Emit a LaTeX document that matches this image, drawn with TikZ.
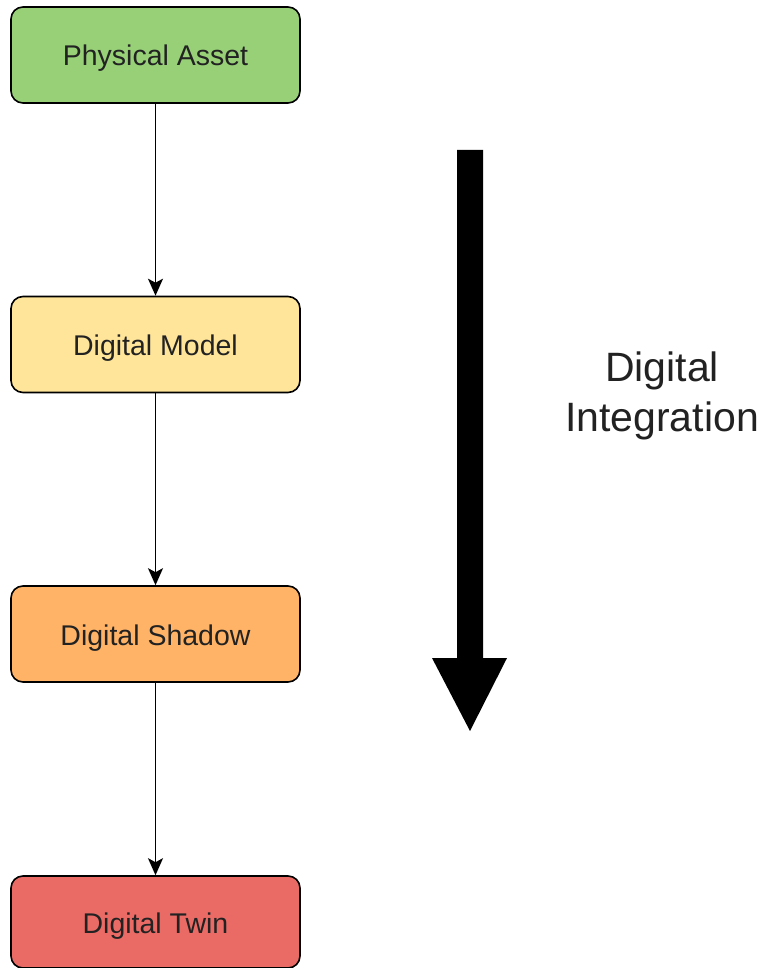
\documentclass[tikz,border=0pt]{standalone}
\usepackage{fontspec}
\setmainfont{Liberation Sans}
\usetikzlibrary{arrows.meta}
\definecolor{cgreen}{HTML}{97D077}
\definecolor{cyellow}{HTML}{FFE599}
\definecolor{corange}{HTML}{FFB366}
\definecolor{cred}{HTML}{EA6B66}
\definecolor{ctext}{HTML}{222222}
\begin{document}
\begin{tikzpicture}[x=1pt,y=-1pt,
  stagebox/.style={draw=black, line width=1.6pt, rounded corners=12pt,
    minimum width=289pt, minimum height=96pt, inner sep=0pt,
    text height=28pt, text depth=6pt,
    text=ctext, font=\fontsize{28.5}{34}\selectfont},
  link/.style={draw=black, line width=1.8pt, -{Stealth[length=17pt,width=15pt,inset=4pt]}}]
\useasboundingbox (0,0) rectangle (771,968);
\node[stagebox, fill=cgreen]  (pa) at (155.5,55)  {Physical Asset};
\node[stagebox, fill=cyellow] (dm) at (155.5,344.5) {Digital Model};
\node[stagebox, fill=corange] (ds) at (155.5,634) {Digital Shadow};
\node[stagebox, fill=cred, minimum height=92pt] (dt) at (155.5,922) {Digital Twin};
\draw[link] (pa) -- (dm);
\draw[link] (dm) -- (ds);
\draw[link] (ds) -- (dt);
\fill[black] (457,150) -- (483,150) -- (483,658) -- (507,658) -- (470,731) -- (432,658) -- (457,658) -- cycle;
\node[align=center, text=ctext, font=\fontsize{41}{50}\selectfont] (di) at (662,396) {Digital\\Integration};
\end{tikzpicture}
\end{document}
